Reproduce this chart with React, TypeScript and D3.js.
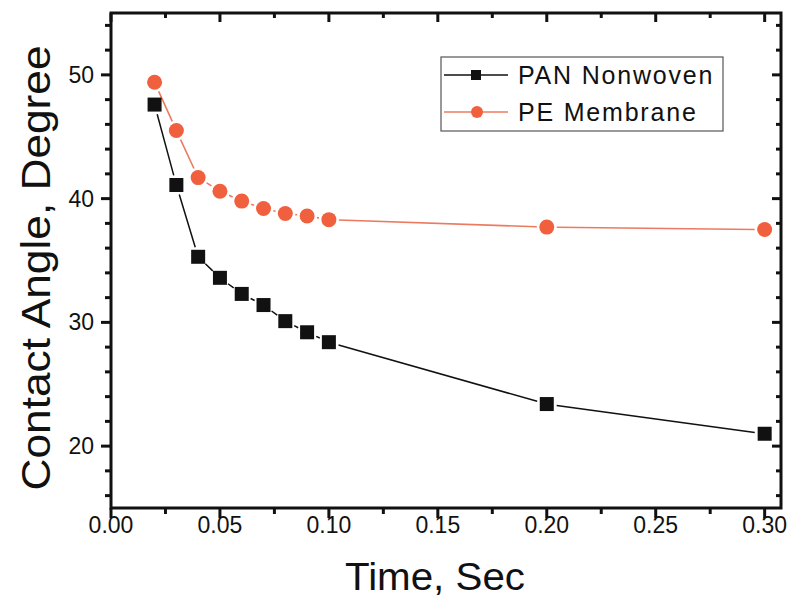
import React from "react";
import * as d3 from "d3";

const times = [0.02, 0.03, 0.04, 0.05, 0.06, 0.07, 0.08, 0.09, 0.1, 0.2, 0.3];
const panValues = [47.6, 41.1, 35.3, 33.6, 32.3, 31.4, 30.1, 29.2, 28.4, 23.4, 21.0];
const peValues = [49.4, 45.5, 41.7, 40.6, 39.8, 39.2, 38.8, 38.6, 38.3, 37.7, 37.5];
const xTickValues = [0, 0.05, 0.1, 0.15, 0.2, 0.25, 0.3];
const yTickValues = [20, 30, 40, 50];
const seriesNames = ["PAN Nonwoven", "PE Membrane"];

const W = 791;
const H = 601;
const L = 111, R = 781, T = 13, B = 508;
const FONT = "'Liberation Sans', Arial, sans-serif";
const PE_COLOR = "#f0603e";
const PE_LINE = "#ec7a60";

function segments(pts: [number, number][], gap: number) {
  const out: string[] = [];
  for (let i = 0; i < pts.length - 1; i++) {
    const [x1, y1] = pts[i];
    const [x2, y2] = pts[i + 1];
    const dx = x2 - x1, dy = y2 - y1;
    const len = Math.hypot(dx, dy);
    if (len <= 2 * gap) continue;
    const ux = dx / len, uy = dy / len;
    out.push(`M${x1 + ux * gap},${y1 + uy * gap}L${x2 - ux * gap},${y2 - uy * gap}`);
  }
  return out.join("");
}

export default function App() {
  const x = d3.scaleLinear().domain([0, 0.3075]).range([L, R]);
  const y = d3.scaleLinear().domain([15, 55]).range([B, T]);

  const xMinor = d3.range(0.025, 0.3075, 0.05);
  const yMinor = d3.range(16, 55, 2).filter((v) => v % 10 !== 0);

  const panPts: [number, number][] = times.map((t, i) => [x(t), y(panValues[i])]);
  const pePts: [number, number][] = times.map((t, i) => [x(t), y(peValues[i])]);

  const sq = 14;
  const lx = 441, ly = 57, lw = 282, lh = 74;

  return (
    <div style={{ position: "absolute", left: 0, top: 0 }}>
      <svg width={W} height={H} style={{ display: "block", background: "#fff" }}>
        <path d={segments(pePts, 10)} stroke={PE_LINE} strokeWidth={1.6} fill="none" />
        <path d={segments(panPts, 10)} stroke="#111" strokeWidth={1.5} fill="none" />
        {pePts.map(([px, py], i) => (
          <circle key={"pe" + i} cx={px} cy={py} r={7.5} fill={PE_COLOR} />
        ))}
        {panPts.map(([px, py], i) => (
          <rect key={"pan" + i} x={px - sq / 2} y={py - sq / 2} width={sq} height={sq} fill="#111" />
        ))}

        <rect x={L} y={T} width={R - L} height={B - T} fill="none" stroke="#111" strokeWidth={3} />

        {xTickValues.map((v) => (
          <g key={"xt" + v}>
            <line x1={x(v)} x2={x(v)} y1={B} y2={B + 10} stroke="#111" strokeWidth={3} />
            <line x1={x(v)} x2={x(v)} y1={T} y2={T + 9} stroke="#111" strokeWidth={3} />
            <text x={x(v)} y={533} textAnchor="middle" fontFamily={FONT} fontSize={23} fill="#111">
              {d3.format(".2f")(v)}
            </text>
          </g>
        ))}
        {xMinor.map((v) => (
          <g key={"xm" + v}>
            <line x1={x(v)} x2={x(v)} y1={B} y2={B + 6} stroke="#111" strokeWidth={3} />
            <line x1={x(v)} x2={x(v)} y1={T} y2={T + 5} stroke="#111" strokeWidth={3} />
          </g>
        ))}

        {yTickValues.map((v) => (
          <g key={"yt" + v}>
            <line x1={L} x2={L - 10} y1={y(v)} y2={y(v)} stroke="#111" strokeWidth={3} />
            <line x1={R} x2={R - 9} y1={y(v)} y2={y(v)} stroke="#111" strokeWidth={3} />
            <text x={94} y={y(v) + 8} textAnchor="end" fontFamily={FONT} fontSize={23} fill="#111">
              {v}
            </text>
          </g>
        ))}
        {yMinor.map((v) => (
          <g key={"ym" + v}>
            <line x1={L} x2={L - 6} y1={y(v)} y2={y(v)} stroke="#111" strokeWidth={3} />
            <line x1={R} x2={R - 5} y1={y(v)} y2={y(v)} stroke="#111" strokeWidth={3} />
          </g>
        ))}

        <text x={435} y={590} textAnchor="middle" fontFamily={FONT} fontSize={38} fill="#111"
          textLength={180} lengthAdjust="spacingAndGlyphs">
          Time, Sec
        </text>
        <text transform={`translate(50,268) rotate(-90)`} textAnchor="middle" fontFamily={FONT}
          fontSize={41} fill="#111" textLength={445} lengthAdjust="spacingAndGlyphs">
          Contact Angle, Degree
        </text>

        <rect x={lx} y={ly} width={lw} height={lh} fill="#fff" stroke="#555" strokeWidth={1.2} />
        <line x1={lx + 3} x2={lx + 67} y1={ly + 18} y2={ly + 18} stroke="#111" strokeWidth={1.5} />
        <rect x={lx + 35 - 5} y={ly + 18 - 5} width={10} height={10} fill="#111" />
        <text x={518} y={ly + 27} fontFamily={FONT} fontSize={25} fill="#111" letterSpacing={1.8}>
          {seriesNames[0]}
        </text>
        <line x1={lx + 3} x2={lx + 67} y1={ly + 55} y2={ly + 55} stroke={PE_LINE} strokeWidth={1.5} />
        <circle cx={lx + 36} cy={ly + 55} r={6} fill={PE_COLOR} />
        <text x={518} y={ly + 64} fontFamily={FONT} fontSize={25} fill="#111" letterSpacing={1.8}>
          {seriesNames[1]}
        </text>
      </svg>
    </div>
  );
}
